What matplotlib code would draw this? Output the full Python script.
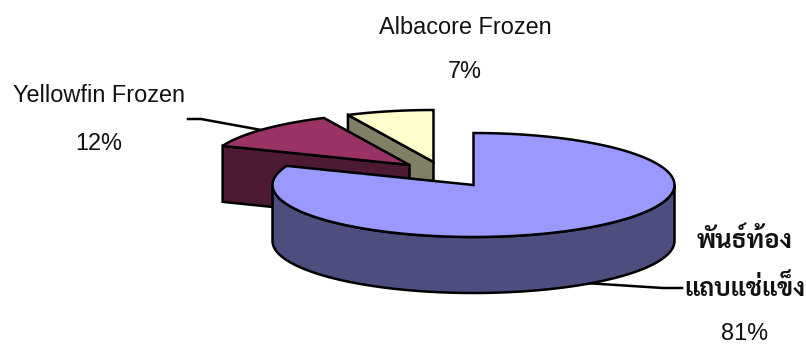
import numpy as np
import matplotlib
matplotlib.use("Agg")
import matplotlib.pyplot as plt
from matplotlib.patches import Polygon

# Share of frozen tuna by species, clockwise from twelve o'clock
species = ["belly", "yellowfin", "albacore"]
shares = [81, 12, 7]

top_colors = ["#9999FF", "#993366", "#FFFFCC"]
side_colors = ["#4D4D80", "#4D1933", "#808066"]

# Pixel-space layout of the tilted pie
centers = [(473.5, 185), (409.5, 165), (433.5, 162)]
RX, RY, DEPTH = 201, 52, 56
LW = 1.8

plt.rcParams["font.family"] = ["Liberation Sans", "DejaVu Sans"]
fig = plt.figure(figsize=(8.06, 3.45), dpi=100)
ax = fig.add_axes([0, 0, 1, 1])
ax.set_xlim(0, 806)
ax.set_ylim(345, 0)
ax.axis("off")


def rim(center, start, end, n=120):
    """Points along the elliptical rim between two angles in degrees."""
    t = np.radians(np.linspace(start, end, n))
    return np.column_stack((center[0] + RX * np.cos(t), center[1] - RY * np.sin(t)))


def add_poly(pts, color, z):
    ax.add_patch(Polygon(pts, closed=True, facecolor=color, edgecolor="black",
                         linewidth=LW, joinstyle="miter", zorder=z))


# Leader lines sit underneath the wedges
ax.plot([188, 201, 264], [119, 119, 130.5], color="black", lw=LW, zorder=1)
ax.plot([585, 663, 682], [283, 288, 288], color="black", lw=LW, zorder=1)

# Wedge angles, measured counter-clockwise from three o'clock
angles = 90 - np.cumsum([0] + shares) * 3.6
z = 20
for i in reversed(range(len(shares))):
    c = np.array(centers[i], dtype=float)
    a_lead, a_trail = angles[i], angles[i + 1]
    drop = np.array([0, DEPTH])

    # Straight cut face, visible when the leading edge points back and to the left
    p = rim(c, a_lead, a_lead, 2)[0]
    if np.sin(np.radians(a_lead)) > 0 and np.cos(np.radians(a_lead)) < -0.01:
        add_poly([c, p, p + drop, c + drop], side_colors[i], z)
        z += 1

    # Curved outer wall, only where the rim faces the viewer
    for k in (-360, 0):
        s, e = max(a_trail, 180 + k), min(a_lead, 360 + k)
        if s < e:
            r = rim(c, s, e)
            add_poly(np.vstack((r, (r + drop)[::-1])), side_colors[i], z)
            z += 1

    # Top surface
    add_poly(np.vstack((c, rim(c, a_trail, a_lead))), top_colors[i], z)
    z += 1

text_kw = dict(ha="center", va="center", color="#111111", zorder=40)
thai_family = ["Sarabun", "DejaVu Sans"]
ax.text(465.5, 28, "Albacore Frozen", fontsize=16.9, **text_kw)
ax.text(465, 72, "7%", fontsize=16.9, **text_kw)
ax.text(99, 96, "Yellowfin Frozen", fontsize=16.9, **text_kw)
ax.text(99, 143, "12%", fontsize=16.9, **text_kw)
ax.text(745, 241, "พันธ์ท้อง", fontsize=18.5, fontweight="bold", family=thai_family, **text_kw)
ax.text(745, 289, "แถบแช่แข็ง", fontsize=18, fontweight="bold", family=thai_family, **text_kw)
ax.text(745, 333, "81%", fontsize=16.9, **text_kw)

fig.savefig("out.png", dpi=100)
